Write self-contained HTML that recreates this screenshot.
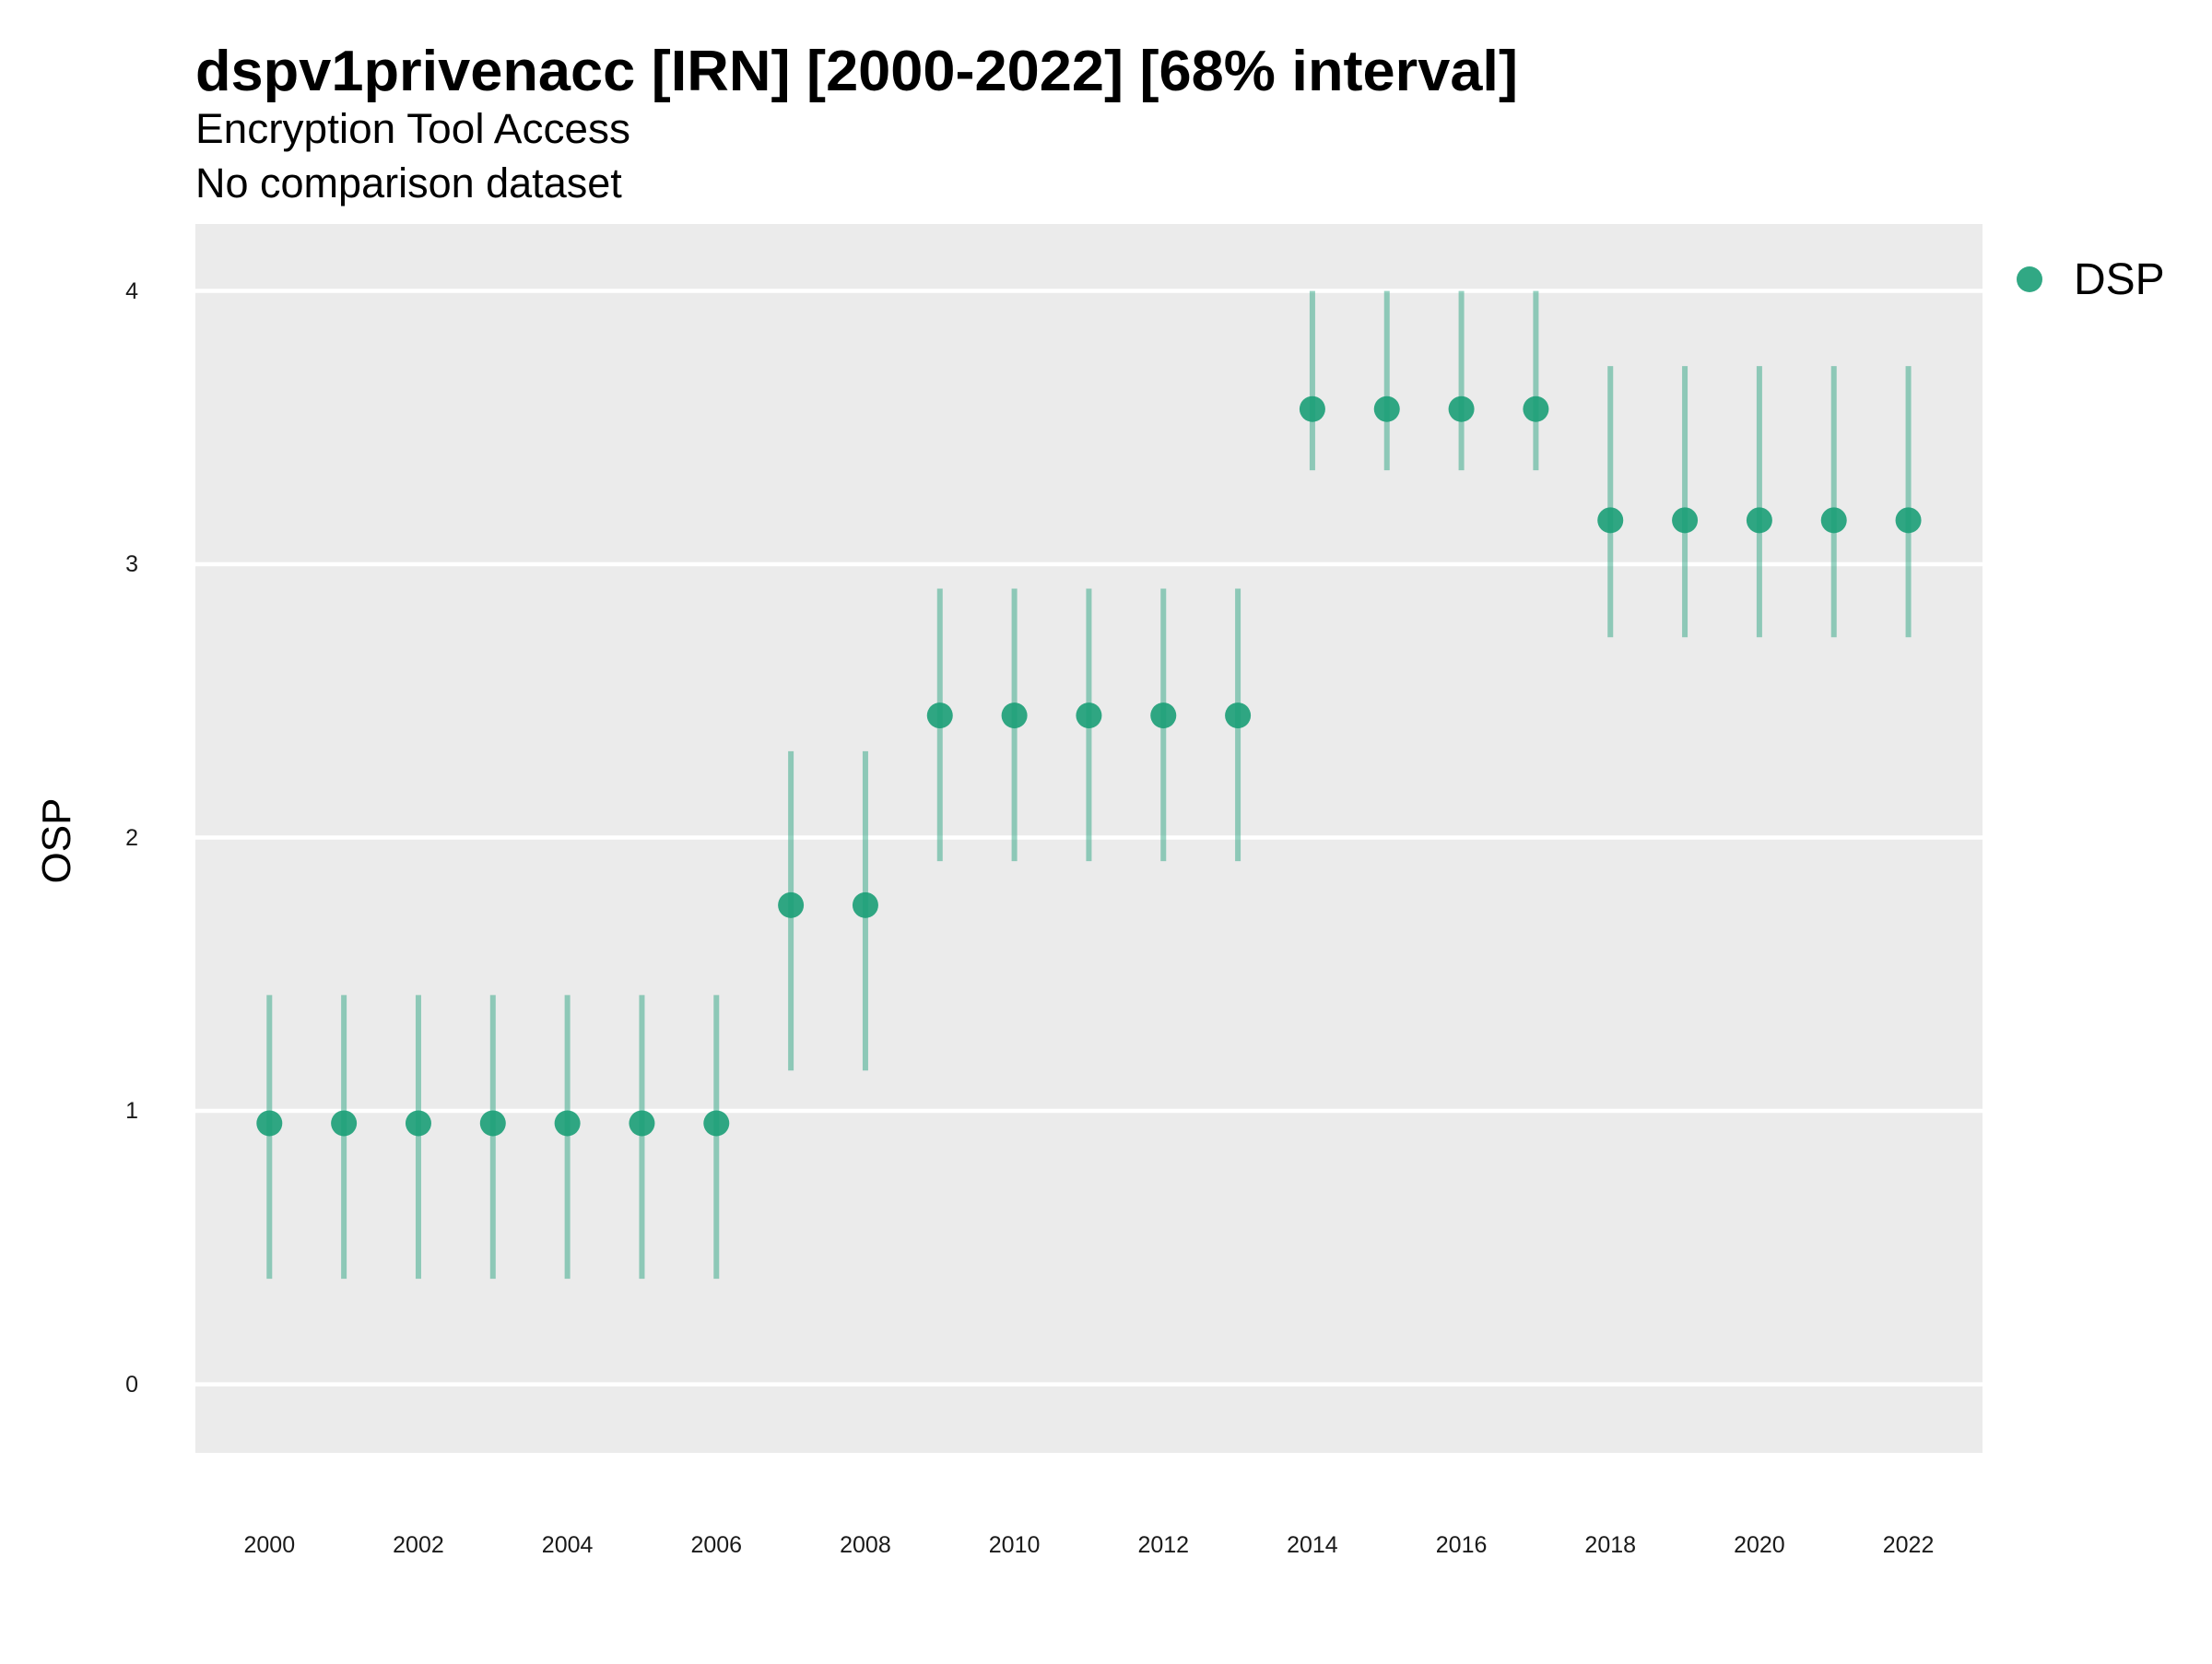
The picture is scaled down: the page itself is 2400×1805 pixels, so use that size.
<!DOCTYPE html>
<html><head><meta charset="utf-8"><style>html,body{margin:0;padding:0;background:#fff}</style></head>
<body>
<svg width="2400" height="1800" viewBox="0 0 2400 1800" xmlns="http://www.w3.org/2000/svg" font-family="Liberation Sans, sans-serif">
<rect width="2400" height="1800" fill="#fff"/>
<text x="212" y="98" font-size="62" font-weight="bold" fill="#000" textLength="1435" lengthAdjust="spacingAndGlyphs">dspv1privenacc [IRN] [2000-2022] [68% interval]</text>
<text x="212" y="155" font-size="45" fill="#000" textLength="472" lengthAdjust="spacingAndGlyphs">Encryption Tool Access</text>
<text x="212" y="214" font-size="45" fill="#000">No comparison dataset</text>
<rect x="212" y="243" width="1939" height="1333" fill="#ebebeb"/>
<g stroke="#fff" stroke-width="4.5">
<line x1="212" x2="2151" y1="315.5" y2="315.5"/>
<line x1="212" x2="2151" y1="612" y2="612"/>
<line x1="212" x2="2151" y1="908.5" y2="908.5"/>
<line x1="212" x2="2151" y1="1205" y2="1205"/>
<line x1="212" x2="2151" y1="1501.6" y2="1501.6"/>
</g>
<g font-size="25" fill="#1a1a1a" text-anchor="end">
<text x="150" y="324">4</text>
<text x="150" y="620">3</text>
<text x="150" y="917">2</text>
<text x="150" y="1213">1</text>
<text x="150" y="1510">0</text>
</g>
<text transform="translate(76,912) rotate(-90)" font-size="44" text-anchor="middle" fill="#000">OSP</text>
<g font-size="25" fill="#1a1a1a" text-anchor="middle" id="xl"></g>
<g id="pts"></g>
<circle cx="2202" cy="303" r="14" fill="#1b9e77" opacity="0.9"/>
<text x="2250" y="319" font-size="48" fill="#000">DSP</text>
<script>
var ns="http://www.w3.org/2000/svg";
function Y(v){return 1501.6-v*296.5;}
function X(yr){return 292.3+(yr-2000)*80.83;}
var d=[];
for(var y=2000;y<=2022;y++){
 var p;
 if(y<=2006)p=[0.955,0.386,1.424];
 else if(y<=2008)p=[1.753,1.148,2.316];
 else if(y<=2013)p=[2.447,1.914,2.911];
 else if(y<=2017)p=[3.568,3.344,4.0];
 else p=[3.161,2.733,3.725];
 d.push([y,p]);
}
var g=document.getElementById("pts"),xl=document.getElementById("xl");
d.forEach(function(e){
 var x=X(e[0]),p=e[1];
 var l=document.createElementNS(ns,"line");
 l.setAttribute("x1",x);l.setAttribute("x2",x);l.setAttribute("y1",Y(p[1]));l.setAttribute("y2",Y(p[2]));
 l.setAttribute("stroke","#1b9e77");l.setAttribute("stroke-opacity","0.45");l.setAttribute("stroke-width","6");
 g.appendChild(l);
 var c=document.createElementNS(ns,"circle");
 c.setAttribute("cx",x);c.setAttribute("cy",Y(p[0]));c.setAttribute("r","14");
 c.setAttribute("fill","#1b9e77");c.setAttribute("opacity","0.9");
 g.appendChild(c);
 if(e[0]%2==0){var t=document.createElementNS(ns,"text");t.setAttribute("x",x);t.setAttribute("y","1684");t.textContent=e[0];xl.appendChild(t);}
});
</script>
</svg>
</body></html>
